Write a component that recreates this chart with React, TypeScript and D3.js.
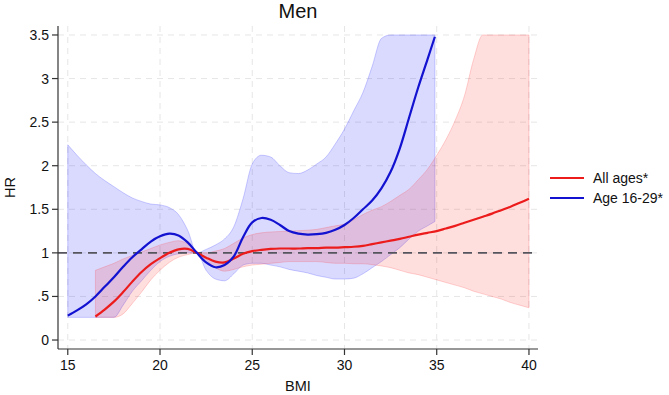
import React from "react";
import * as d3 from "d3";

// BMI grid and hazard ratios, age 16-29
const youngBmi = [
  15, 15.5, 16, 16.5, 17, 17.5, 18, 18.5, 19, 19.5, 20, 20.5, 21, 21.5, 22, 22.5, 23, 23.5, 24, 24.5,
  25, 25.5, 26, 26.5, 27, 27.5, 28, 28.5, 29, 29.5, 30, 30.5, 31, 31.5, 32, 32.5, 33, 33.5, 34, 34.5, 34.9,
];
const youngHr = [
  0.28, 0.34, 0.41, 0.5, 0.61, 0.72, 0.84, 0.95, 1.04, 1.13, 1.19, 1.22, 1.2, 1.12, 1.0, 0.89, 0.835, 0.86, 0.96, 1.18,
  1.35, 1.4, 1.38, 1.32, 1.25, 1.22, 1.21, 1.215, 1.23, 1.265, 1.32, 1.4, 1.5, 1.6, 1.74, 1.93, 2.2, 2.55, 2.9, 3.22, 3.48,
];
const youngUpper = [
  2.24, 2.12, 2.01, 1.91, 1.83, 1.76, 1.69, 1.63, 1.59, 1.56, 1.55, 1.52, 1.44, 1.26, 1.0, 1.04, 1.09, 1.16, 1.3, 1.62,
  2.02, 2.12, 2.1, 2.0, 1.92, 1.91, 1.95, 2.02, 2.1, 2.25, 2.42, 2.63, 2.84, 3.14, 3.46, 3.5, 3.5, 3.5, 3.5, 3.5, 3.5,
];
const youngLower = [
  0.26, 0.26, 0.26, 0.26, 0.26, 0.26, 0.4, 0.56, 0.68, 0.8, 0.9, 0.96, 0.99, 1.0, 1.0, 0.8, 0.7, 0.68, 0.76, 0.86,
  0.88, 0.88, 0.86, 0.84, 0.81, 0.79, 0.77, 0.74, 0.72, 0.7, 0.7, 0.71, 0.76, 0.83, 0.9, 0.98, 1.06, 1.16, 1.25, 1.31, 1.36,
];

// BMI grid and hazard ratios, all ages
const allBmi = [
  16.5, 17, 17.5, 18, 18.5, 19, 19.5, 20, 20.5, 21, 21.5, 22, 22.5, 23, 23.5, 24, 24.5, 25, 25.5, 26,
  26.5, 27, 27.5, 28, 28.5, 29, 29.5, 30, 30.5, 31, 31.5, 32, 32.5, 33, 33.5, 34, 34.5, 35, 35.5, 36,
  36.5, 37, 37.5, 38, 38.5, 39, 39.5, 40,
];
const allHr = [
  0.27, 0.35, 0.44, 0.55, 0.67, 0.78, 0.87, 0.94, 1.0, 1.04, 1.045, 1.0, 0.945, 0.9, 0.89, 0.935, 0.99, 1.02, 1.035, 1.045,
  1.05, 1.05, 1.05, 1.055, 1.055, 1.06, 1.06, 1.065, 1.07, 1.08, 1.1, 1.12, 1.14, 1.16, 1.185, 1.21, 1.23, 1.25, 1.28, 1.31,
  1.345, 1.38, 1.415, 1.45, 1.49, 1.53, 1.575, 1.62,
];
const allUpper = [
  0.8, 0.84, 0.88, 0.93, 0.97, 1.01, 1.05, 1.09, 1.12, 1.14, 1.1, 1.0, 1.0, 1.02, 1.05, 1.11, 1.17, 1.21, 1.23, 1.24,
  1.245, 1.25, 1.255, 1.26, 1.27, 1.29, 1.31, 1.33, 1.38, 1.44, 1.49, 1.53, 1.59, 1.66, 1.73, 1.84, 1.96, 2.12, 2.3, 2.52,
  2.8, 3.22, 3.5, 3.5, 3.5, 3.5, 3.5, 3.5,
];
const allLower = [
  0.26, 0.26, 0.26, 0.3, 0.42, 0.55, 0.69, 0.8, 0.89, 0.95, 0.98, 1.0, 0.92, 0.83, 0.79, 0.81, 0.84, 0.86, 0.87, 0.88,
  0.89, 0.9, 0.9, 0.9, 0.9, 0.89, 0.88, 0.88, 0.875, 0.875, 0.865, 0.85, 0.83, 0.8, 0.77, 0.75, 0.72, 0.69, 0.66, 0.63,
  0.6, 0.56, 0.53, 0.5, 0.47, 0.43, 0.4, 0.37,
];

const xTicks = [15, 20, 25, 30, 35, 40];
const yTicks = [0, 0.5, 1, 1.5, 2, 2.5, 3, 3.5];
const yTickLabels = ["0", ".5", "1", "1.5", "2", "2.5", "3", "3.5"];
const legendItems = [
  { label: "All ages*", color: "#ec1c1c" },
  { label: "Age 16-29*", color: "#1212d0" },
];

type Row = { x: number; y: number; lo: number; hi: number };

const zip = (xs: number[], ys: number[], lo: number[], hi: number[]): Row[] =>
  xs.map((x, i) => ({ x, y: ys[i], lo: lo[i], hi: hi[i] }));

export default function App() {
  const width = 669;
  const height = 395;
  const plot = { left: 58, right: 538, top: 26, bottom: 349 };
  const font = "'Liberation Sans', Arial, Helvetica, sans-serif";

  const x = d3.scaleLinear().domain([14.47, 40.49]).range([plot.left, plot.right]);
  const y = d3.scaleLinear().domain([-0.103, 3.603]).range([plot.bottom, plot.top]);

  const young = zip(youngBmi, youngHr, youngLower, youngUpper);
  const all = zip(allBmi, allHr, allLower, allUpper);

  // smooth spline through the estimates; bands keep monotone so the clipped edges stay flat
  const band = d3
    .area<Row>()
    .x((d) => x(d.x))
    .y0((d) => y(d.lo))
    .y1((d) => y(d.hi))
    .curve(d3.curveMonotoneX);
  const line = d3
    .line<Row>()
    .x((d) => x(d.x))
    .y((d) => y(d.y))
    .curve(d3.curveCatmullRom.alpha(0.5));

  return (
    <svg width={width} height={height} style={{ position: "absolute", left: 0, top: 0, background: "#fff" }} fontFamily={font}>
      {/* grid */}
      {yTicks.map((t) => (
        <line key={"gy" + t} x1={plot.left} x2={plot.right} y1={y(t)} y2={y(t)} stroke="#e6e6e6" strokeDasharray="6,5" />
      ))}
      {xTicks.map((t) => (
        <line key={"gx" + t} x1={x(t)} x2={x(t)} y1={plot.top} y2={plot.bottom} stroke="#e6e6e6" strokeDasharray="6,5" />
      ))}

      {/* confidence bands */}
      <path d={band(young) ?? ""} fill="rgba(0,0,255,0.145)" stroke="rgba(60,60,255,0.25)" strokeWidth={1} />
      <path d={band(all) ?? ""} fill="rgba(255,0,0,0.13)" stroke="rgba(255,60,60,0.22)" strokeWidth={1} />

      {/* reference line at HR = 1 */}
      <line x1={plot.left} x2={plot.right} y1={y(1)} y2={y(1)} stroke="#55555e" strokeWidth={1.6} strokeDasharray="9,6" />

      <path d={line(all) ?? ""} fill="none" stroke={legendItems[0].color} strokeWidth={2.2} />
      <path d={line(young) ?? ""} fill="none" stroke={legendItems[1].color} strokeWidth={2.2} />

      {/* axes */}
      <line x1={plot.left} x2={plot.left} y1={plot.top} y2={plot.bottom} stroke="#333" strokeWidth={1.2} />
      <line x1={plot.left} x2={plot.right} y1={plot.bottom} y2={plot.bottom} stroke="#333" strokeWidth={1.2} />
      {yTicks.map((t, i) => (
        <g key={"ty" + t}>
          <line x1={plot.left - 6} x2={plot.left} y1={y(t)} y2={y(t)} stroke="#333" strokeWidth={1.2} />
          <text x={plot.left - 9} y={y(t) + 5} textAnchor="end" fontSize={14} fill="#111">
            {yTickLabels[i]}
          </text>
        </g>
      ))}
      {xTicks.map((t) => (
        <g key={"tx" + t}>
          <line x1={x(t)} x2={x(t)} y1={plot.bottom} y2={plot.bottom + 6} stroke="#333" strokeWidth={1.2} />
          <text x={x(t)} y={plot.bottom + 21} textAnchor="middle" fontSize={14} fill="#111">
            {t}
          </text>
        </g>
      ))}

      <text x={(plot.left + plot.right) / 2} y={391} textAnchor="middle" fontSize={14.5} fill="#111">
        BMI
      </text>
      <text transform={`translate(15,${(plot.top + plot.bottom) / 2}) rotate(-90)`} textAnchor="middle" fontSize={14.5} fill="#111">
        HR
      </text>
      <text x={(plot.left + plot.right) / 2} y={18} textAnchor="middle" fontSize={20} fill="#111">
        Men
      </text>

      {/* legend */}
      {legendItems.map((d, i) => (
        <g key={d.label} transform={`translate(550,${178 + i * 20})`}>
          <line x1={0} x2={34} y1={0} y2={0} stroke={d.color} strokeWidth={2.2} />
          <text x={43} y={5} fontSize={14} fill="#111">
            {d.label}
          </text>
        </g>
      ))}
    </svg>
  );
}
